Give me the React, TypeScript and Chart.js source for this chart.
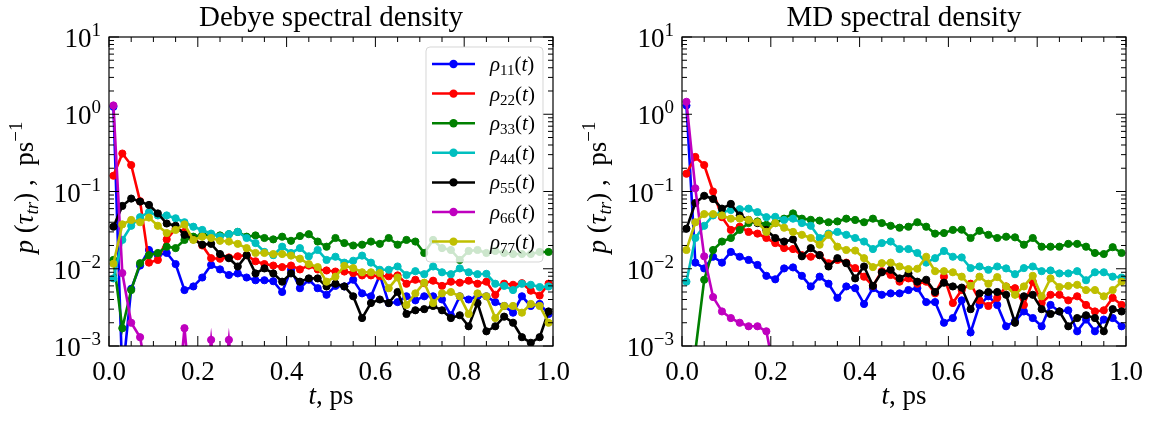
import React, { useEffect, useRef } from "react";
import { Chart, registerables } from "chart.js";
Chart.register(...registerables);

// ---------------- data ----------------
const T = [0.01, 0.03, 0.05, 0.07, 0.09, 0.11, 0.13, 0.15, 0.17, 0.19, 0.21, 0.23, 0.25, 0.27, 0.29, 0.31, 0.33, 0.35, 0.37, 0.39, 0.41, 0.43, 0.45, 0.47, 0.49, 0.51, 0.53, 0.55, 0.57, 0.59, 0.61, 0.63, 0.65, 0.67, 0.69, 0.71, 0.73, 0.75, 0.77, 0.79, 0.81, 0.83, 0.85, 0.87, 0.89, 0.91, 0.93, 0.95, 0.97, 0.99];

const SERIES_SUBS = ["11", "22", "33", "44", "55", "66", "77"];
const COLORS = ["#0000ff", "#ff0000", "#008000", "#00bfbf", "#000000", "#bf00bf", "#bfbf00"];

const DEBYE_RHO11 = [1.25, 0.0004, 0.0055, 0.011, 0.0175, 0.015, 0.016, 0.0115, 0.0053, 0.0059,
  0.0077, 0.0112, 0.0098, 0.0083, 0.0087, 0.0077, 0.0071, 0.0071, 0.0069, 0.005,
  0.0097, 0.0056, 0.0072, 0.0056, 0.0046, 0.006, 0.0059, 0.0072, 0.0048, 0.0044,
  0.0083, 0.0036, 0.0037, 0.0044, 0.0039, 0.0044, 0.0044, 0.004, 0.0025, 0.0044,
  0.004, 0.0044, 0.0044, 0.0037, 0.0033, 0.0027, 0.0044, 0.0033, 0.0035, 0.0026];
const DEBYE_RHO22 = [0.16, 0.31, 0.22, 0.075, 0.012, 0.013, 0.024, 0.033, 0.03, 0.025,
  0.02, 0.0137, 0.0135, 0.014, 0.0145, 0.015, 0.0125, 0.0115, 0.011, 0.0105,
  0.011, 0.0098, 0.011, 0.0098, 0.0095, 0.0092, 0.0092, 0.0088, 0.0082, 0.0082,
  0.008, 0.008, 0.0082, 0.0064, 0.0072, 0.0065, 0.007, 0.006, 0.0068, 0.0066,
  0.007, 0.0064, 0.0068, 0.0046, 0.0064, 0.0062, 0.0065, 0.0052, 0.0045, 0.0064];
const DEBYE_RHO33 = [0.013, 0.0017, 0.0053, 0.0118, 0.015, 0.016, 0.0193, 0.0185, 0.0236, 0.026,
  0.0275, 0.0275, 0.027, 0.028, 0.03, 0.026, 0.027, 0.025, 0.024, 0.026,
  0.023, 0.0265, 0.028, 0.0225, 0.0193, 0.025, 0.0215, 0.02, 0.0205, 0.0225,
  0.021, 0.025, 0.0205, 0.0236, 0.0225, 0.016, 0.0236, 0.0185, 0.0175, 0.013,
  0.017, 0.0175, 0.016, 0.017, 0.016, 0.0155, 0.0155, 0.0155, 0.0165, 0.0165];
const DEBYE_RHO44 = [0.0075, 0.0236, 0.036, 0.0465, 0.054, 0.049, 0.049, 0.045, 0.04, 0.035,
  0.0318, 0.0285, 0.0262, 0.028, 0.03, 0.025, 0.0215, 0.0165, 0.015, 0.0193,
  0.016, 0.0185, 0.0145, 0.0175, 0.013, 0.0143, 0.012, 0.0127, 0.0148, 0.012,
  0.0097, 0.0097, 0.0107, 0.0083, 0.0093, 0.0085, 0.0107, 0.009, 0.0085, 0.0101,
  0.009, 0.0085, 0.0086, 0.0064, 0.006, 0.0053, 0.0064, 0.0062, 0.0058, 0.0059];
const DEBYE_RHO55 = [0.035, 0.065, 0.081, 0.074, 0.067, 0.052, 0.0385, 0.036, 0.0275, 0.024,
  0.0205, 0.021, 0.0155, 0.0137, 0.0107, 0.015, 0.0087, 0.0101, 0.0087, 0.0068,
  0.0087, 0.0068, 0.0075, 0.0075, 0.0059, 0.0064, 0.0059, 0.0044, 0.0023, 0.0036,
  0.004, 0.0036, 0.005, 0.0026, 0.0029, 0.003, 0.0033, 0.0029, 0.0023, 0.0025,
  0.0018, 0.0036, 0.00155, 0.0018, 0.0024, 0.002, 0.0013, 0.0011, 0.0013, 0.0028];
const DEBYE_RHO66 = [1.3, 0.0088, 0.002, 0.0013, 0.0003, 0.0001, 0.0001, 0.0001, 0.0017, 0.0001,
  0.0001, 0.0012, 0.0001, 0.0012, 0.0001, 0.0001, 0.0001, 0.0001, 0.0001, 0.0001,
  0.0001, 0.0001, 0.0001, 0.0001, 0.0001, 0.0001, 0.0001, 0.0001, 0.0001, 0.0001,
  0.0001, 0.0001, 0.0001, 0.0001, 0.0001, 0.0001, 0.0001, 0.0001, 0.0001, 0.0001,
  0.0001, 0.0001, 0.0001, 0.0001, 0.0001, 0.0001, 0.0001, 0.0001, 0.0001, 0.0001];
const DEBYE_RHO77 = [0.0116, 0.0375, 0.0428, 0.04, 0.046, 0.036, 0.029, 0.0318, 0.0375, 0.0236,
  0.026, 0.025, 0.023, 0.0225, 0.021, 0.0185, 0.016, 0.016, 0.0155, 0.0155,
  0.0148, 0.0135, 0.0115, 0.0105, 0.0068, 0.0079, 0.0109, 0.0102, 0.009, 0.009,
  0.0088, 0.0056, 0.0077, 0.0034, 0.0048, 0.0066, 0.0036, 0.0048, 0.005, 0.0044,
  0.0026, 0.0048, 0.0044, 0.0023, 0.0033, 0.0033, 0.0027, 0.0035, 0.0033, 0.002];

const MD_RHO11 = [1.3, 0.012, 0.0101, 0.0143, 0.012, 0.0165, 0.0143, 0.013, 0.0112, 0.0081,
  0.0073, 0.0101, 0.0104, 0.0081, 0.0059, 0.0079, 0.0064, 0.0042, 0.0059, 0.0056,
  0.0035, 0.0056, 0.0046, 0.0048, 0.0048, 0.0053, 0.0056, 0.0037, 0.0037, 0.002,
  0.0023, 0.0039, 0.0015, 0.0034, 0.0044, 0.0034, 0.0018, 0.0021, 0.0028, 0.0023,
  0.0018, 0.0034, 0.0028, 0.0029, 0.00155, 0.0022, 0.00155, 0.0022, 0.0023, 0.0018];
const MD_RHO22 = [0.17, 0.28, 0.22, 0.1, 0.0465, 0.0318, 0.035, 0.03, 0.0285, 0.025,
  0.0215, 0.0185, 0.018, 0.015, 0.0143, 0.015, 0.0118, 0.013, 0.012, 0.0102,
  0.0079, 0.006, 0.0093, 0.0083, 0.0068, 0.0075, 0.0064, 0.0068, 0.0048, 0.0079,
  0.0036, 0.0053, 0.0064, 0.0039, 0.0033, 0.0042, 0.0059, 0.0056, 0.0034, 0.0068,
  0.0036, 0.0046, 0.0046, 0.0039, 0.0044, 0.0034, 0.0028, 0.0029, 0.0042, 0.0034];
const MD_RHO33 = [0.0001, 0.00085, 0.0072, 0.0175, 0.0225, 0.025, 0.0318, 0.039, 0.041, 0.037,
  0.039, 0.0445, 0.052, 0.0445, 0.043, 0.042, 0.04, 0.041, 0.0445, 0.0428,
  0.04, 0.0445, 0.039, 0.036, 0.034, 0.035, 0.04, 0.035, 0.0285, 0.029,
  0.0318, 0.032, 0.025, 0.031, 0.0275, 0.025, 0.026, 0.0255, 0.0205, 0.025,
  0.0193, 0.0193, 0.0193, 0.021, 0.021, 0.0193, 0.016, 0.0155, 0.019, 0.016];
const MD_RHO44 = [0.0068, 0.025, 0.036, 0.049, 0.054, 0.0576, 0.059, 0.06, 0.054, 0.0465,
  0.047, 0.0428, 0.0445, 0.039, 0.036, 0.025, 0.0285, 0.03, 0.0275, 0.025,
  0.0225, 0.018, 0.0215, 0.0225, 0.018, 0.018, 0.016, 0.012, 0.0137, 0.017,
  0.0143, 0.014, 0.0102, 0.0107, 0.0097, 0.0107, 0.0101, 0.0085, 0.0102, 0.0107,
  0.0093, 0.0095, 0.0087, 0.0087, 0.0093, 0.0071, 0.009, 0.009, 0.0079, 0.0077];
const MD_RHO55 = [0.033, 0.071, 0.088, 0.08, 0.06, 0.069, 0.049, 0.0428, 0.039, 0.0318,
  0.025, 0.0225, 0.024, 0.0145, 0.0185, 0.015, 0.0107, 0.0137, 0.0118, 0.0075,
  0.0107, 0.006, 0.009, 0.0097, 0.0075, 0.0087, 0.0068, 0.0072, 0.005, 0.0066,
  0.0059, 0.0057, 0.003, 0.0048, 0.005, 0.005, 0.0046, 0.002, 0.0044, 0.0046,
  0.003, 0.0026, 0.0028, 0.0018, 0.0023, 0.0025, 0.0023, 0.00155, 0.003, 0.0028];
const MD_RHO66 = [1.45, 0.11, 0.0145, 0.0043, 0.0028, 0.0023, 0.002, 0.0018, 0.0018, 0.00155,
  0.0004, 0.0001, 0.0001, 0.0001, 0.0001, 0.0001, 0.0001, 0.0001, 0.0001, 0.0001,
  0.0001, 0.0001, 0.0001, 0.0001, 0.0001, 0.0001, 0.0001, 0.0001, 0.0001, 0.0001,
  0.0001, 0.0001, 0.0001, 0.0001, 0.0001, 0.0001, 0.0001, 0.0001, 0.0001, 0.0001,
  0.0001, 0.0001, 0.0001, 0.0001, 0.0001, 0.0001, 0.0001, 0.0001, 0.0001, 0.0001];
const MD_RHO77 = [0.0175, 0.04, 0.051, 0.051, 0.049, 0.0445, 0.0445, 0.0428, 0.04, 0.03,
  0.039, 0.034, 0.03, 0.0275, 0.025, 0.0205, 0.0275, 0.0193, 0.0175, 0.0172,
  0.0137, 0.0105, 0.0118, 0.012, 0.0107, 0.0099, 0.01, 0.0143, 0.0093, 0.0093,
  0.009, 0.0079, 0.006, 0.0079, 0.0064, 0.0078, 0.0059, 0.0046, 0.0059, 0.0081,
  0.0044, 0.0075, 0.0058, 0.006, 0.0062, 0.0053, 0.0053, 0.0044, 0.0053, 0.0068];

const DEBYE_SERIES = [DEBYE_RHO11, DEBYE_RHO22, DEBYE_RHO33, DEBYE_RHO44, DEBYE_RHO55, DEBYE_RHO66, DEBYE_RHO77];
const MD_SERIES = [MD_RHO11, MD_RHO22, MD_RHO33, MD_RHO44, MD_RHO55, MD_RHO66, MD_RHO77];

const Y_TICKS = [1e-3, 1e-2, 1e-1, 1, 10];
const Y_TICK_EXPONENTS = ["\u22123", "\u22122", "\u22121", "0", "1"];
const X_TICKS = [0, 0.2, 0.4, 0.6, 0.8, 1.0];
const X_TICK_LABELS = ["0.0", "0.2", "0.4", "0.6", "0.8", "1.0"];
const X_MINOR = [0.05, 0.1, 0.15, 0.25, 0.3, 0.35, 0.45, 0.5, 0.55, 0.65, 0.7, 0.75, 0.85, 0.9, 0.95];

// ---------------- drawing helpers ----------------
const FONT = '"Liberation Serif", "DejaVu Serif", serif';
type Seg = { t: string; it?: boolean; size: number; dy?: number };
const fnt = (size: number, it?: boolean) => `${it ? "italic " : ""}${size}px ${FONT}`;

function richWidth(ctx: CanvasRenderingContext2D, segs: Seg[]) {
  let w = 0;
  for (const s of segs) { ctx.font = fnt(s.size, s.it); w += ctx.measureText(s.t).width; }
  return w;
}
function drawRich(ctx: CanvasRenderingContext2D, segs: Seg[], x: number, y: number, align: "left" | "center" | "right") {
  const w = richWidth(ctx, segs);
  let cx = align === "left" ? x : align === "center" ? x - w / 2 : x - w;
  ctx.textAlign = "left";
  ctx.textBaseline = "alphabetic";
  for (const s of segs) {
    ctx.font = fnt(s.size, s.it);
    ctx.fillText(s.t, cx, y + (s.dy || 0));
    cx += ctx.measureText(s.t).width;
  }
}

const FS = 27;

function makeDecor(title: string, showLegend: boolean) {
  return {
    id: "decor",
    afterDatasetsDraw(chart: any) {
      const ctx: CanvasRenderingContext2D = chart.ctx;
      const a = chart.chartArea;
      const xs = chart.scales.x;
      const ys = chart.scales.y;
      ctx.save();
      ctx.fillStyle = "#000";
      ctx.strokeStyle = "#000";
      ctx.lineWidth = 1;
      const line = (x1: number, y1: number, x2: number, y2: number) => {
        ctx.beginPath(); ctx.moveTo(x1, y1); ctx.lineTo(x2, y2); ctx.stroke();
      };
      // x ticks
      for (const v of X_TICKS) {
        const px = xs.getPixelForValue(v);
        line(px, a.bottom, px, a.bottom - 10);
        line(px, a.top, px, a.top + 10);
      }
      for (const v of X_MINOR) {
        const px = xs.getPixelForValue(v);
        line(px, a.bottom, px, a.bottom - 5);
        line(px, a.top, px, a.top + 5);
      }
      // y ticks
      for (const v of Y_TICKS) {
        const py = ys.getPixelForValue(v);
        line(a.left, py, a.left + 10, py);
        line(a.right, py, a.right - 10, py);
      }
      for (let d = -3; d < 1; d++) {
        for (let m = 2; m <= 9; m++) {
          const py = ys.getPixelForValue(m * Math.pow(10, d));
          line(a.left, py, a.left + 5, py);
          line(a.right, py, a.right - 5, py);
        }
      }
      // frame
      ctx.lineWidth = 1.2;
      ctx.strokeRect(a.left, a.top, a.right - a.left, a.bottom - a.top);

      // y tick labels
      Y_TICKS.forEach((v, i) => {
        const py = ys.getPixelForValue(v);
        drawRich(ctx, [{ t: "10", size: FS }, { t: Y_TICK_EXPONENTS[i], size: 19, dy: -11 }], a.left - 8, py + 10, "right");
      });
      // x tick labels
      X_TICKS.forEach((v, i) => {
        const px = xs.getPixelForValue(v);
        drawRich(ctx, [{ t: X_TICK_LABELS[i], size: FS }], px, a.bottom + 34, "center");
      });
      const cx = (a.left + a.right) / 2;
      // title
      drawRich(ctx, [{ t: title, size: 29 }], cx, 26, "center");
      // x label
      drawRich(ctx, [{ t: "t", it: true, size: FS }, { t: ", ps", size: FS }], cx, 404, "center");
      // y label
      ctx.save();
      ctx.translate(a.left - 76, (a.top + a.bottom) / 2 - 4);
      ctx.rotate(-Math.PI / 2);
      drawRich(ctx, [
        { t: "p", it: true, size: FS },
        { t: " (", size: FS },
        { t: "\u03c4", it: true, size: FS },
        { t: "tr", it: true, size: 19, dy: 5 },
        { t: ")", size: FS },
        { t: " ,  ps", size: FS },
        { t: "\u22121", size: 19, dy: -11 },
      ], 0, 0, "center");
      ctx.restore();

      // legend
      if (showLegend) {
        const bw = 117, bh = 215;
        const bx = a.right - 10 - bw, by = a.top + 10;
        ctx.beginPath();
        ctx.roundRect(bx, by, bw, bh, 4);
        ctx.fillStyle = "rgba(255,255,255,0.8)";
        ctx.fill();
        ctx.strokeStyle = "rgba(204,204,204,0.8)";
        ctx.lineWidth = 1;
        ctx.stroke();
        SERIES_SUBS.forEach((sub, i) => {
          const ry = by + 17 + i * 29.6;
          ctx.strokeStyle = COLORS[i];
          ctx.lineWidth = 2.5;
          line(bx + 6, ry, bx + 49, ry);
          ctx.fillStyle = COLORS[i];
          ctx.beginPath(); ctx.arc(bx + 27.5, ry, 4.2, 0, Math.PI * 2); ctx.fill();
          ctx.fillStyle = "#000";
          drawRich(ctx, [
            { t: "\u03c1", it: true, size: 21 },
            { t: sub, size: 15, dy: 4 },
            { t: "(", size: 21 },
            { t: "t", it: true, size: 21 },
            { t: ")", size: 21 },
          ], bx + 64, ry + 7, "left");
        });
      }
      ctx.restore();
    },
  };
}

function Panel(props: { series: number[][]; title: string; legend: boolean; width: number; yWidth: number; padRight: number; left: number }) {
  const ref = useRef<HTMLCanvasElement | null>(null);
  useEffect(() => {
    if (!ref.current) return;
    const datasets = props.series.map((d, i) => ({
      label: "rho" + SERIES_SUBS[i],
      data: T.map((t, k) => ({ x: t, y: d[k] })),
      borderColor: COLORS[i],
      backgroundColor: COLORS[i],
      pointBackgroundColor: COLORS[i],
      pointBorderColor: COLORS[i],
      pointRadius: 3.6,
      pointBorderWidth: 1,
      borderWidth: 2.6,
      tension: 0,
      order: -i,
      clip: 0,
    }));
    const chart = new Chart(ref.current, {
      type: "line",
      data: { datasets },
      options: {
        animation: false,
        responsive: false,
        events: [],
        layout: { padding: { left: 0, right: props.padRight, top: 37, bottom: 0 } },
        plugins: { legend: { display: false }, tooltip: { enabled: false }, title: { display: false } },
        scales: {
          x: {
            type: "linear", min: 0, max: 1,
            grid: { display: false, drawTicks: false }, border: { display: false },
            ticks: { display: false },
            afterFit: (s: any) => { s.height = 75; },
          },
          y: {
            type: "logarithmic", min: 1e-3, max: 10,
            grid: { display: false, drawTicks: false }, border: { display: false },
            ticks: { display: false },
            afterFit: (s: any) => { s.width = props.yWidth; },
          },
        },
      } as any,
      plugins: [makeDecor(props.title, props.legend)],
    });
    return () => chart.destroy();
  }, []);
  return (
    <canvas ref={ref} width={props.width} height={421}
      style={{ position: "absolute", left: props.left, top: 0, width: props.width, height: 421 }} />
  );
}

export default function App() {
  return (
    <div style={{ position: "absolute", left: 0, top: 0, width: 1153, height: 421, background: "#fff" }}>
      <Panel series={DEBYE_SERIES} title="Debye spectral density" legend={true} width={576} yWidth={109} padRight={23} left={0} />
      <Panel series={MD_SERIES} title="MD spectral density" legend={false} width={577} yWidth={106} padRight={27} left={576} />
    </div>
  );
}
